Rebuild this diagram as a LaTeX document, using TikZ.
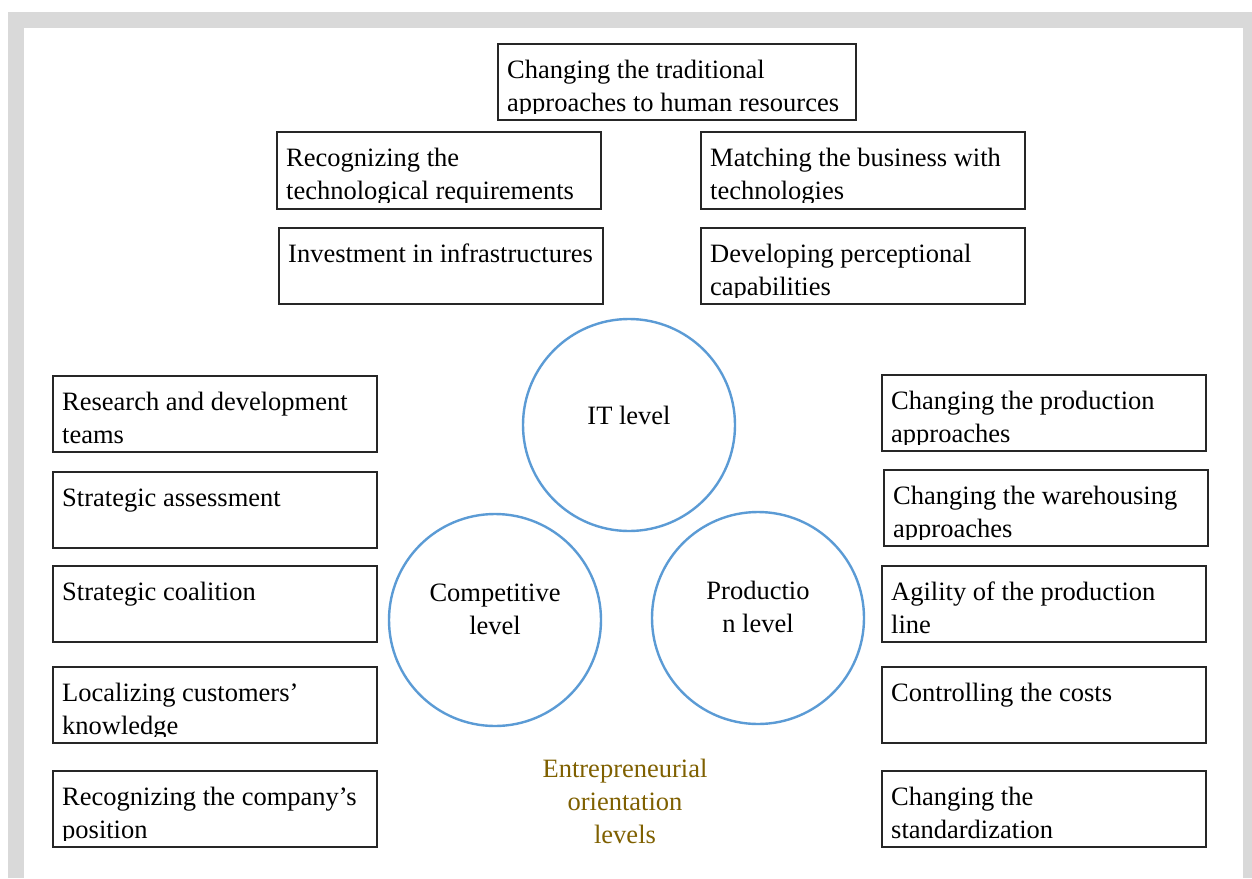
\documentclass[tikz,border=0pt]{standalone}
\usepackage{fontspec}
\setmainfont{Liberation Serif}
\definecolor{bggray}{HTML}{D9D9D9}
\definecolor{circblue}{HTML}{5B9BD5}
\definecolor{goldtxt}{HTML}{7F6000}
\tikzset{
  ebox/.style={draw=black!85, line width=1.2pt, fill=white, inner sep=0pt, outer sep=0pt},
  btext/.style={font=\fontsize{26.5}{33}\selectfont, align=left, inner sep=0pt, text=black},
  lvl/.style={circle, draw=circblue, line width=2.4pt, minimum size=212pt, inner sep=0pt},
  ctext/.style={font=\fontsize{26.5}{33}\selectfont, align=center, inner sep=0pt, text=black},
}
\newcommand\ebox[6]{%
  \node[ebox, anchor=north west, minimum width={(#4-#2)*1pt}, minimum height={(#5-#3)*1pt}] (#1) at (#2,#3) {};
  \begin{scope}
    \clip ([yshift=7pt]#1.south west) rectangle (#1.north east);
    \node[btext, anchor=north west] (#1-t) at ([xshift=9pt,yshift=-10.9pt]#1.north west) {\strut #6};
  \end{scope}}
\begin{document}
\begin{tikzpicture}[x=1pt,y=-1pt]
\useasboundingbox (0,0) rectangle (1252,878);
\fill[bggray] (8,12) rectangle (1252,878);
\fill[white] (24,28) rectangle (1243,878);

% top boxes
\ebox{t1}{498}{44}{856}{120}{Changing the traditional\\approaches to human resources}
\ebox{t2}{277}{132}{601}{209}{Recognizing the\\technological requirements}
\ebox{t3}{701}{132}{1025}{209}{Matching the business with\\technologies}
\ebox{t4}{279}{228}{603}{304}{Investment in infrastructures}
\ebox{t5}{701}{228}{1025}{304}{Developing perceptional\\capabilities}

% left column
\ebox{l1}{53}{376}{377}{452}{Research and development\\teams}
\ebox{l2}{53}{472}{377}{548}{Strategic assessment}
\ebox{l3}{53}{566}{377}{642}{Strategic coalition}
\ebox{l4}{53}{667}{377}{743}{Localizing customers'\\knowledge}
\ebox{l5}{53}{771}{377}{847}{Recognizing the company's\\position}

% right column
\ebox{r1}{882}{375}{1206}{451}{Changing the production\\approaches}
\ebox{r2}{884}{470}{1208}{546}{Changing the warehousing\\approaches}
\ebox{r3}{882}{566}{1206}{642}{Agility of the production\\line}
\ebox{r4}{882}{667}{1206}{743}{Controlling the costs}
\ebox{r5}{882}{771}{1206}{847}{Changing the\\standardization}

% circles
\node[lvl] (it) at (629,425) {};
\node[lvl] (comp) at (495,620) {};
\node[lvl] (prod) at (758,618) {};
\node[ctext, anchor=north] (it-t) at (629,{424-23.1}) {\strut IT level};
\node[ctext, anchor=north] (comp-t) at (495,{601.7-23.1}) {\strut Competitive\\level};
\node[ctext, anchor=north] (prod-t) at (758,{599.3-23.1}) {\strut Productio\\n level};

% caption
\node[ctext, text=goldtxt, anchor=north] (eo) at (625,{777.3-23.1}) {\strut Entrepreneurial\\orientation\\levels};
\end{tikzpicture}
\end{document}
